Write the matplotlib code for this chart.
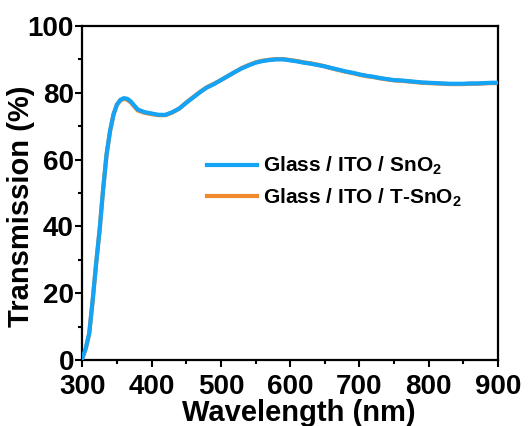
import matplotlib
matplotlib.use('Agg')
import matplotlib.pyplot as plt
from matplotlib.ticker import MultipleLocator

plt.rcParams['font.family'] = 'Liberation Sans'
plt.rcParams['font.weight'] = 'bold'
plt.rcParams['mathtext.fontset'] = 'custom'
plt.rcParams['mathtext.rm'] = 'Liberation Sans:bold'
plt.rcParams['mathtext.bf'] = 'Liberation Sans:bold'
plt.rcParams['mathtext.default'] = 'bf'

wavelength = [300, 305, 310, 315, 320, 325, 330, 335, 340, 345, 350, 355, 360, 365,
              370, 375, 380, 390, 400, 410, 420, 430, 440, 450, 460, 470, 480, 490,
              500, 510, 520, 530, 540, 550, 560, 570, 580, 590, 600, 610, 620, 630,
              640, 650, 660, 670, 680, 690, 700, 710, 720, 730, 740, 750, 760, 770,
              780, 790, 800, 810, 820, 830, 840, 850, 860, 870, 880, 890, 900]

sno2 = [0.5, 3.5, 8.0, 18.0, 29.0, 39.0, 51.0, 61.5, 68.5, 73.5, 76.5, 77.9, 78.4, 78.2,
        77.4, 76.2, 75.0, 74.2, 73.8, 73.4, 73.4, 74.2, 75.3, 77.0, 78.6, 80.2, 81.6, 82.6,
        83.8, 85.0, 86.2, 87.3, 88.2, 89.0, 89.5, 89.8, 90.0, 90.0, 89.7, 89.4, 89.0, 88.7,
        88.3, 87.9, 87.4, 86.9, 86.4, 86.0, 85.5, 85.1, 84.8, 84.4, 84.1, 83.8, 83.7, 83.5,
        83.3, 83.1, 83.0, 82.9, 82.8, 82.7, 82.7, 82.7, 82.8, 82.8, 82.9, 83.0, 83.0]

t_sno2 = [0.5, 3.4, 7.9, 17.9, 28.9, 39.0, 51.0, 61.5, 68.5, 73.5, 76.4, 77.7, 78.2, 77.9,
          77.1, 75.9, 74.7, 74.0, 73.6, 73.3, 73.3, 74.1, 75.3, 77.1, 78.7, 80.3, 81.7, 82.7,
          83.8, 85.0, 86.2, 87.4, 88.3, 89.1, 89.6, 89.9, 90.1, 90.1, 89.8, 89.5, 89.1, 88.8,
          88.4, 87.9, 87.3, 86.8, 86.3, 85.9, 85.4, 85.0, 84.7, 84.3, 84.0, 83.7, 83.6, 83.4,
          83.2, 83.0, 82.9, 82.8, 82.7, 82.6, 82.6, 82.6, 82.7, 82.7, 82.8, 82.9, 82.9]

fig = plt.figure(figsize=(5.31, 4.26), dpi=100)
ax = fig.add_axes([0.155, 0.155, 0.783, 0.784])

ax.plot(wavelength, t_sno2, color='#f0892c', lw=3.0, label='Glass / ITO / T-SnO$_2$', zorder=2)
ax.plot(wavelength, sno2, color='#14a3f5', lw=3.0, label='Glass / ITO / SnO$_2$', zorder=3)

ax.set_xlim(300, 900)
ax.set_ylim(0, 100)
ax.xaxis.set_major_locator(MultipleLocator(100))
ax.xaxis.set_minor_locator(MultipleLocator(50))
ax.yaxis.set_major_locator(MultipleLocator(20))
ax.yaxis.set_minor_locator(MultipleLocator(10))
ax.tick_params(which='both', direction='out', width=1.5, labelsize=20, top=False, right=False)
ax.tick_params(which='major', length=5)
ax.tick_params(which='minor', length=3)
ax.tick_params(axis='y', pad=1)
ax.tick_params(axis='x', pad=5)
for s in ax.spines.values():
    s.set_linewidth(1.6)

ax.set_xlabel('Wavelength (nm)', fontsize=21, fontweight='bold')
ax.set_ylabel('Transmission (%)', fontsize=21, fontweight='bold')
ax.xaxis.set_label_coords(0.52, -0.117)
ax.yaxis.set_label_coords(-0.113, 0.46)

h, l = ax.get_legend_handles_labels()
ax.legend(h[::-1], l[::-1], loc='upper left', bbox_to_anchor=(0.255, 0.67), frameon=False,
          fontsize=15, handlelength=2.4, handletextpad=0.3, labelspacing=0.45)

fig.savefig('out.png', dpi=100)
